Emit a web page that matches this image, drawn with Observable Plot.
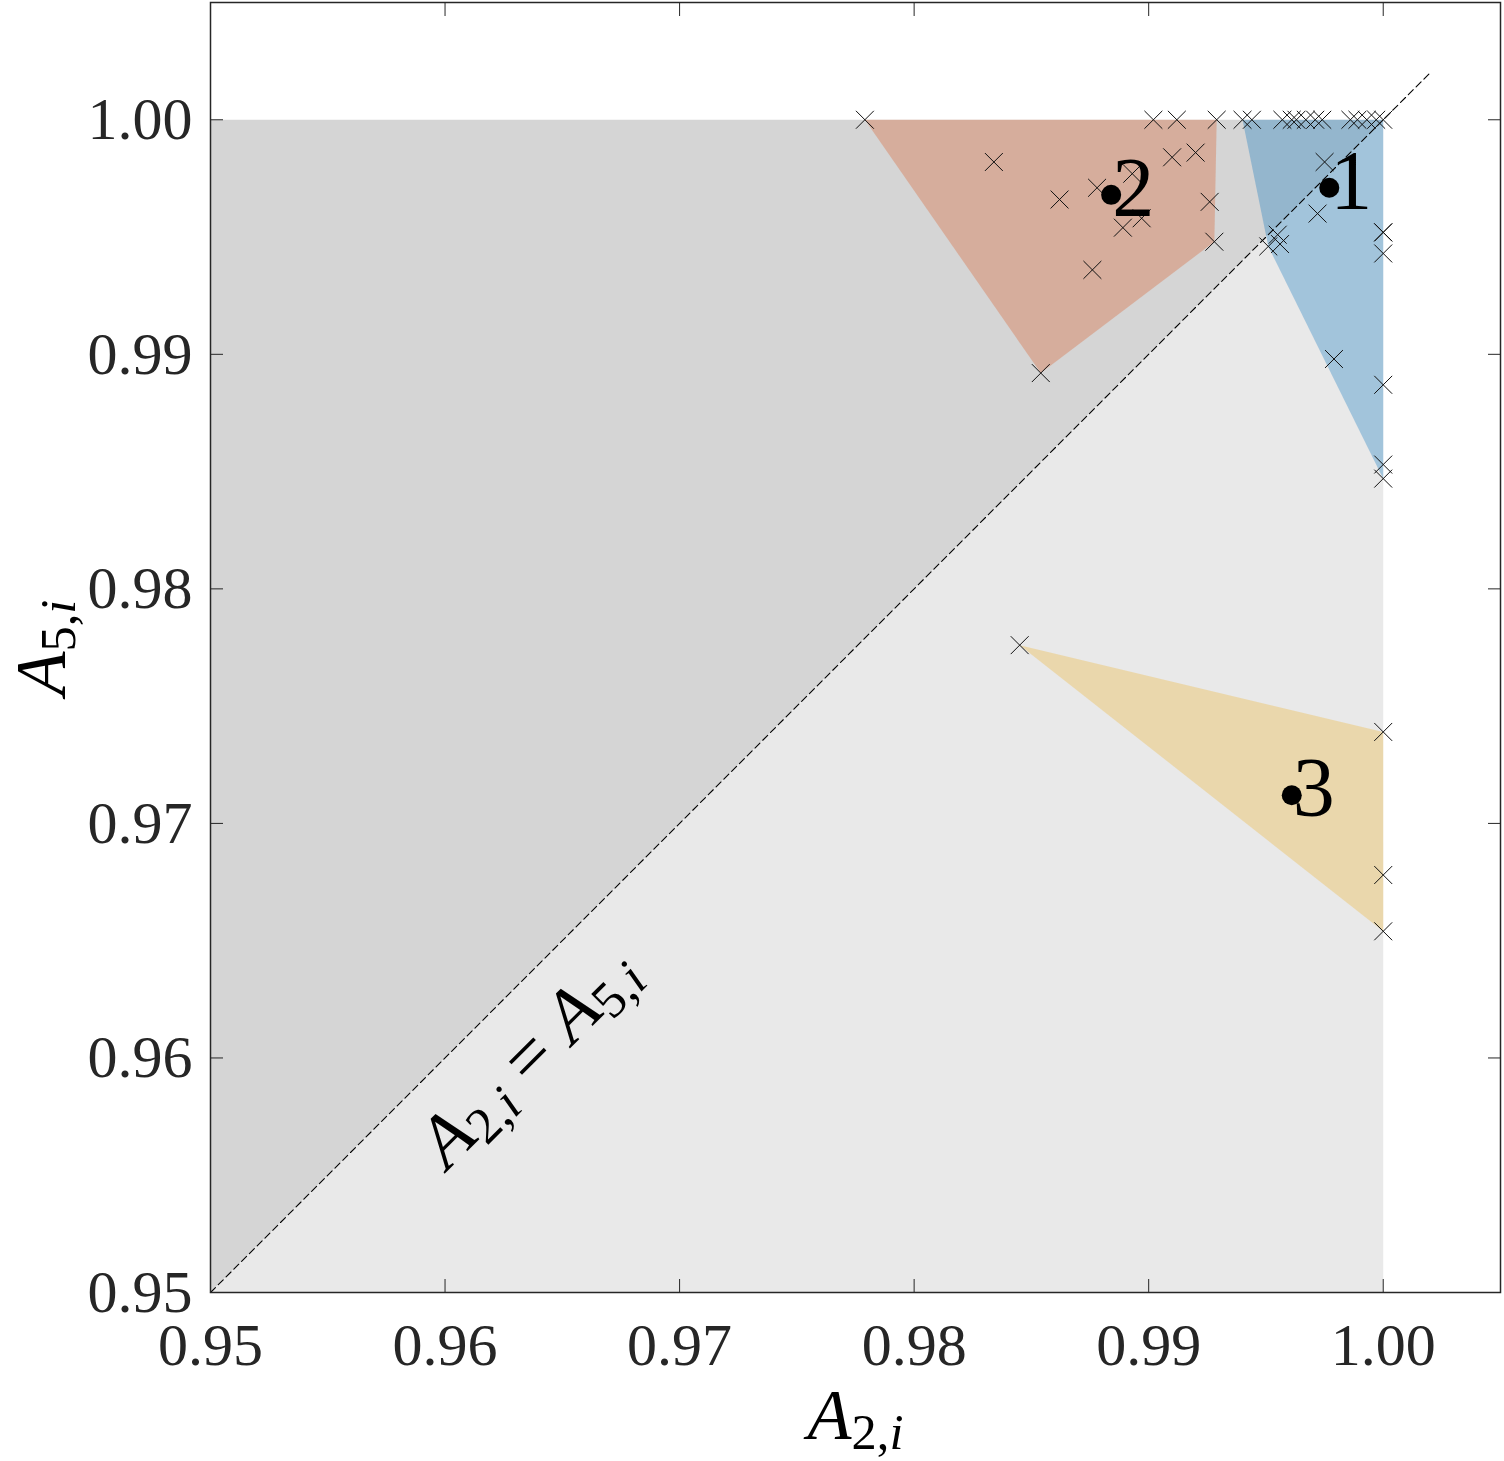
<!DOCTYPE html>
<html>
<head>
<meta charset="utf-8">
<script src="https://cdn.jsdelivr.net/npm/d3@7"></script>
<script src="https://cdn.jsdelivr.net/npm/@observablehq/plot@0.6"></script>
<style>
  html, body { margin: 0; padding: 0; background: #ffffff; }
</style>
</head>
<body>
<div id="chart"></div>
<script>
// ---------- data ----------
const tickValues = [0.95, 0.96, 0.97, 0.98, 0.99, 1.00];
const diagonalEnds = [0.95, 1.002];

// background regions (A2, A5)
const regionAbove = [[0.95, 0.95], [0.95, 1.00], [1.00, 1.00]];
const regionBelow = [[0.95, 0.95], [1.00, 0.95], [1.00, 1.00]];

// cluster hulls (A2, A5)
const hull1 = [[0.9940, 1.0000], [1.0000, 1.0000], [1.0000, 0.9847], [0.9951, 0.9946]];
const hull2 = [[0.9779, 1.0000], [0.9929, 1.0000], [0.9928, 0.9948], [0.9854, 0.9892]];
const hull3 = [[0.9845, 0.9776], [1.0000, 0.9739], [1.0000, 0.9654]];

// cluster members (A2, A5)
const points1 = [
  [0.9940, 1.0000], [0.9944, 1.0000], [0.9957, 1.0000], [0.9961, 1.0000], [0.9963, 1.0000],
  [0.9967, 1.0000], [0.9971, 1.0000], [0.9974, 1.0000], [0.9986, 1.0000], [0.9989, 1.0000],
  [0.9993, 1.0000], [0.9997, 1.0000], [1.0000, 1.0000],
  [0.9975, 0.9982], [0.9972, 0.9960], [0.9955, 0.9951], [0.9956, 0.9947], [0.9951, 0.9946],
  [1.0000, 0.9952], [1.0000, 0.9952], [1.0000, 0.9943], [1.0000, 0.9887], [1.0000, 0.9853],
  [1.0000, 0.9847], [0.9979, 0.9898]
];
const points2 = [
  [0.9779, 1.0000], [0.9902, 1.0000], [0.9912, 1.0000], [0.9929, 1.0000],
  [0.9834, 0.9982], [0.9862, 0.9966], [0.9878, 0.9971], [0.9893, 0.9977], [0.9897, 0.9958],
  [0.9889, 0.9954], [0.9876, 0.9936], [0.9854, 0.9892], [0.9928, 0.9948], [0.9926, 0.9965],
  [0.9910, 0.9984], [0.9920, 0.9986]
];
const points3 = [[0.9845, 0.9776], [1.0000, 0.9739], [1.0000, 0.9678], [1.0000, 0.9654]];

// cluster centres (A2, A5, label)
const centroidA2 = [0.9977, 0.9884, 0.9961];
const centroidA5 = [0.9971, 0.9968, 0.9712];
const centroidLabels = ["1", "2", "3"];

const clusterColors = ["#0072BD", "#D95319", "#EDB120"];
const xLabel = "A_{2,i}";
const yLabel = "A_{5,i}";
const diagonalLabel = "A_{2,i} = A_{5,i}";
const diagonalLabelAt = 0.9618;

// ---------- chart ----------
const serif = "'Liberation Serif', 'Times New Roman', serif";
const centroids = centroidA2.map((a2, i) => ({a2, a5: centroidA5[i], label: centroidLabels[i]}));
const px = d => d[0], py = d => d[1];

const chart = Plot.plot({
  width: 1504,
  height: 1461,
  marginTop: 2,
  marginBottom: 169,
  marginLeft: 210,
  marginRight: 4,
  style: {fontFamily: serif, color: "#262626", background: "#ffffff", overflow: "visible"},
  x: {domain: [0.95, 1.005]},
  y: {domain: [0.95, 1.005]},
  marks: [
    Plot.line(regionAbove, {x: px, y: py, fill: "#d5d5d5", stroke: "none"}),
    Plot.line(regionBelow, {x: px, y: py, fill: "#e9e9e9", stroke: "none"}),
    Plot.line(hull1, {x: px, y: py, fill: clusterColors[0], fillOpacity: 0.3, stroke: "none"}),
    Plot.line(hull2, {x: px, y: py, fill: clusterColors[1], fillOpacity: 0.3, stroke: "none"}),
    Plot.line(hull3, {x: px, y: py, fill: clusterColors[2], fillOpacity: 0.3, stroke: "none"}),
    Plot.line(diagonalEnds, {x: d => d, y: d => d, stroke: "#000", strokeWidth: 1.1, strokeDasharray: "7,4"}),
    Plot.dot(points1.concat(points2, points3), {x: px, y: py, symbol: "times", r: 8.2, stroke: "#111", strokeWidth: 1}),
    Plot.dot(centroids, {x: "a2", y: "a5", r: 10, fill: "#000", stroke: "none"}),
    Plot.text(centroids, {x: "a2", y: "a5", text: "label", textAnchor: "start", lineAnchor: "bottom",
      dx: 1, dy: 21, fontSize: 84, fontFamily: serif, fill: "#000"}),
    Plot.text([diagonalLabel], {x: () => diagonalLabelAt, y: () => diagonalLabelAt, text: d => d,
      rotate: -45, dx: 41, dy: 41, textAnchor: "middle", lineAnchor: "middle",
      fontSize: 74, fontFamily: serif, fill: "#000"}),
    Plot.text([xLabel], {frameAnchor: "bottom", text: d => d, dy: 146, lineAnchor: "bottom",
      textAnchor: "middle", fontSize: 72, fontFamily: serif, fill: "#000"}),
    Plot.text([yLabel], {frameAnchor: "left", text: d => d, rotate: -90, dx: -146, lineAnchor: "bottom",
      textAnchor: "middle", fontSize: 72, fontFamily: serif, fill: "#000"}),
    Plot.frame({stroke: "#262626", strokeWidth: 1.5}),
    Plot.axisX({anchor: "bottom", ticks: tickValues, tickSize: -13, tickPadding: 43,
      tickFormat: d3.format(".2f"), fontSize: 60, label: null}),
    Plot.axisY({anchor: "left", ticks: tickValues, tickSize: -13, tickPadding: 31,
      tickFormat: d3.format(".2f"), fontSize: 60, label: null}),
    Plot.axisX({anchor: "top", ticks: tickValues, tickSize: -13, tickFormat: () => "", label: null}),
    Plot.axisY({anchor: "right", ticks: tickValues, tickSize: -13, tickFormat: () => "", label: null})
  ]
});

// turn "A_{2,i}" style strings into italic letters with subscripts
function texify(svg) {
  const ns = "http://www.w3.org/2000/svg";
  svg.querySelectorAll("text").forEach(t => {
    const s = t.textContent;
    if (!s.includes("_{")) return;
    while (t.firstChild) t.removeChild(t.firstChild);
    const parts = s.split(/([A-Za-z]_\{[^}]*\})/).filter(p => p.length);
    let lowered = false;
    const runs = (str, parent) => {
      (str.match(/[A-Za-z]+|[^A-Za-z]+/g) || []).forEach(r => {
        const ts = document.createElementNS(ns, "tspan");
        ts.textContent = r;
        if (/[A-Za-z]/.test(r)) ts.setAttribute("font-style", "italic");
        parent.appendChild(ts);
      });
    };
    parts.forEach(p => {
      const m = p.match(/^([A-Za-z])_\{([^}]*)\}$/);
      if (m) {
        const base = document.createElementNS(ns, "tspan");
        base.textContent = m[1];
        base.setAttribute("font-style", "italic");
        if (lowered) base.setAttribute("dy", "-0.14em");
        t.appendChild(base);
        const sub = document.createElementNS(ns, "tspan");
        sub.setAttribute("font-size", "70%");
        sub.setAttribute("dy", "0.2em");
        runs(m[2], sub);
        t.appendChild(sub);
        lowered = true;
      } else {
        if (lowered) {
          const up = document.createElementNS(ns, "tspan");
          up.setAttribute("dy", "-0.14em");
          runs(p, up);
          t.appendChild(up);
          lowered = false;
        } else {
          runs(p, t);
        }
      }
    });
  });
}
texify(chart);
document.getElementById("chart").appendChild(chart);
</script>
</body>
</html>
